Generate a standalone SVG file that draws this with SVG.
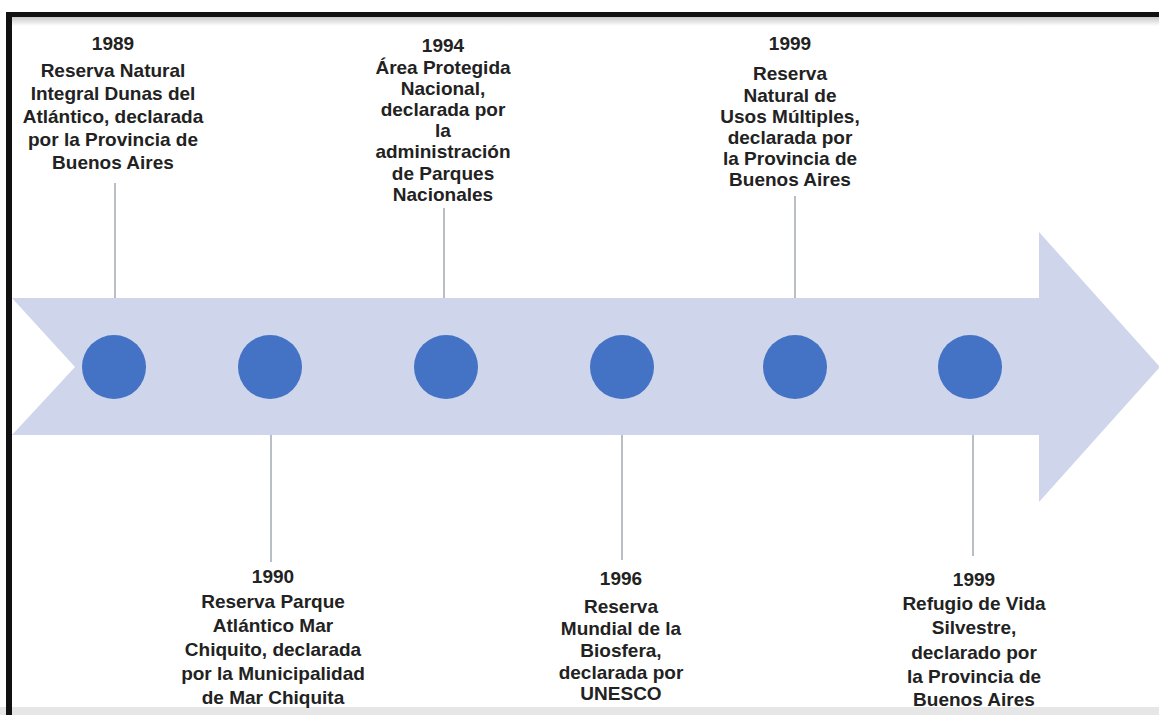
<svg xmlns="http://www.w3.org/2000/svg" width="1159" height="715" viewBox="0 0 1159 715">
<defs>
<linearGradient id="topShade" x1="0" y1="0" x2="0" y2="1">
<stop offset="0" stop-color="#c8c8c8"/>
<stop offset="1" stop-color="#ffffff"/>
</linearGradient>
</defs>
<style>
.lbl{font-family:"Liberation Sans",Arial,sans-serif;font-weight:bold;font-size:19px;fill:#222222;text-anchor:middle}
.dot{fill:#4472C4}
.conn{stroke:#a3aab2;stroke-width:1.5;fill:none}
</style>
<rect x="0" y="0" width="1159" height="715" fill="#ffffff"/>
<rect x="12" y="17" width="1147" height="9" fill="url(#topShade)"/>
<rect x="0" y="707" width="1159" height="8" fill="#e6e6e6"/>
<rect x="6" y="12" width="1153" height="5" fill="#111111"/>
<rect x="6" y="12" width="6" height="703" fill="#111111"/>
<g id="arrow">
<polygon points="12,298 1039,298 1039,232 1160,367 1039,502 1039,435 12,435 75,367" fill="#cfd5ea"/>
</g>
<g id="connectors">
<line class="conn" x1="115" y1="183" x2="115" y2="298"/>
<line class="conn" x1="271" y1="435" x2="271" y2="562"/>
<line class="conn" x1="444" y1="208" x2="444" y2="298"/>
<line class="conn" x1="622" y1="435" x2="622" y2="560"/>
<line class="conn" x1="795" y1="196" x2="795" y2="298"/>
<line class="conn" x1="973" y1="435" x2="973" y2="556"/>
</g>
<g id="node1989">
<circle class="dot" cx="114" cy="367" r="32"/>
<text class="lbl"><tspan x="113" y="50">1989</tspan><tspan x="113" y="77">Reserva Natural</tspan><tspan x="113" y="100">Integral Dunas del</tspan><tspan x="113" y="123">Atlántico, declarada</tspan><tspan x="113" y="146">por la Provincia de</tspan><tspan x="113" y="169">Buenos Aires</tspan></text>
</g>
<g id="node1990">
<circle class="dot" cx="270" cy="367" r="32"/>
<text class="lbl"><tspan x="273" y="583">1990</tspan><tspan x="273" y="608">Reserva Parque</tspan><tspan x="273" y="632">Atlántico Mar</tspan><tspan x="273" y="656">Chiquito, declarada</tspan><tspan x="273" y="680">por la Municipalidad</tspan><tspan x="273" y="704">de Mar Chiquita</tspan></text>
</g>
<g id="node1994">
<circle class="dot" cx="446" cy="367" r="32"/>
<text class="lbl"><tspan x="443" y="52">1994</tspan><tspan x="443" y="74">Área Protegida</tspan><tspan x="443" y="95">Nacional,</tspan><tspan x="443" y="116">declarada por</tspan><tspan x="443" y="137">la</tspan><tspan x="443" y="158">administración</tspan><tspan x="443" y="180">de Parques</tspan><tspan x="443" y="201">Nacionales</tspan></text>
</g>
<g id="node1996">
<circle class="dot" cx="622" cy="367" r="32"/>
<text class="lbl"><tspan x="621" y="585">1996</tspan><tspan x="621" y="613">Reserva</tspan><tspan x="621" y="635">Mundial de la</tspan><tspan x="621" y="657">Biosfera,</tspan><tspan x="621" y="679">declarada por</tspan><tspan x="621" y="700">UNESCO</tspan></text>
</g>
<g id="node1999a">
<circle class="dot" cx="795" cy="367" r="32"/>
<text class="lbl"><tspan x="790" y="50">1999</tspan><tspan x="790" y="80">Reserva</tspan><tspan x="790" y="102">Natural de</tspan><tspan x="790" y="123">Usos Múltiples,</tspan><tspan x="790" y="144">declarada por</tspan><tspan x="790" y="165">la Provincia de</tspan><tspan x="790" y="186">Buenos Aires</tspan></text>
</g>
<g id="node1999b">
<circle class="dot" cx="970" cy="367" r="32"/>
<text class="lbl"><tspan x="974" y="586">1999</tspan><tspan x="974" y="610">Refugio de Vida</tspan><tspan x="974" y="634">Silvestre,</tspan><tspan x="974" y="659">declarado por</tspan><tspan x="974" y="683">la Provincia de</tspan><tspan x="974" y="706">Buenos Aires</tspan></text>
</g>
</svg>
